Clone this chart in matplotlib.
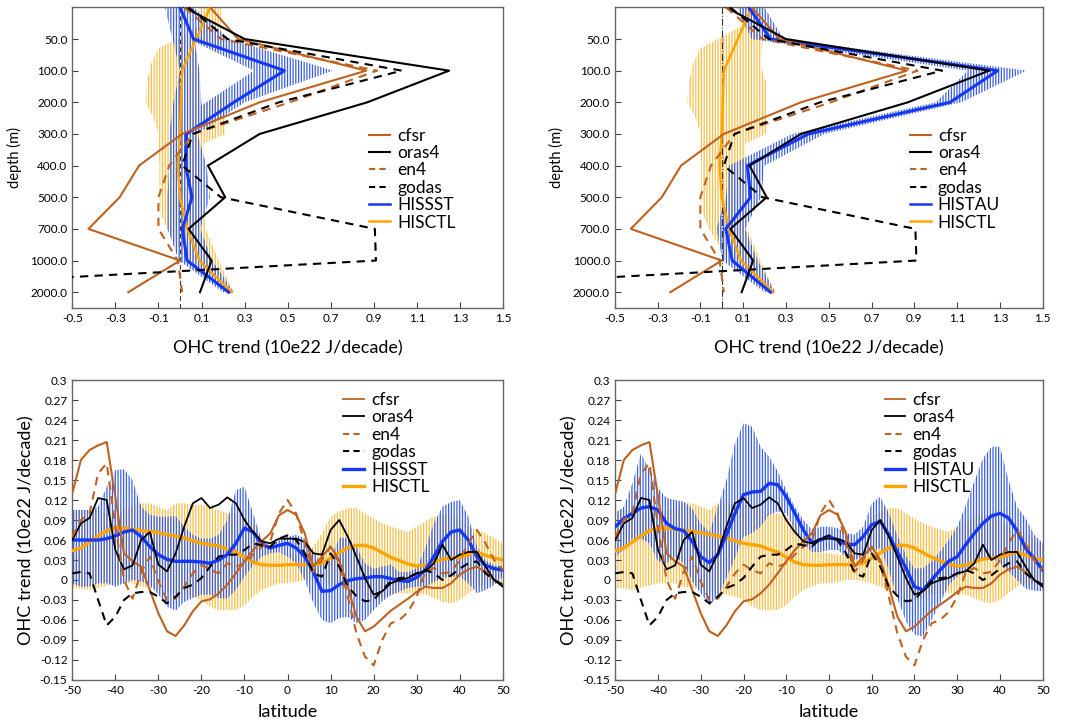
import numpy as np
import matplotlib
matplotlib.use("Agg")
import matplotlib.pyplot as plt
from matplotlib.lines import Line2D

plt.rcParams["font.family"] = ["Lato", "DejaVu Sans"]
plt.rcParams["axes.unicode_minus"] = False
plt.rcParams["hatch.linewidth"] = 0.9

BROWN = "#C0621F"
BLUE = "#1538F2"
ORANGE = "#FFA400"
BLUE_HATCH = "#3A5FE0"
YELLOW_HATCH = "#F7BE45"

# ---------------- vertical profiles (top row) ----------------
depth_labels = ["50.0", "100.0", "200.0", "300.0", "400.0", "500.0", "700.0", "1000.0", "2000.0"]
depth_idx = np.arange(10)  # level 0 = surface, then the labelled levels

cfsr_z = [0.14, 0.27, 0.865, 0.37, 0.01, -0.19, -0.28, -0.425, 0.0, -0.24]
oras4_z = [0.02, 0.30, 1.25, 0.87, 0.37, 0.13, 0.21, 0.04, 0.147, 0.093]
en4_z = [0.02, 0.19, 0.915, 0.51, 0.06, -0.05, -0.1, -0.1, -0.01, 0.01]
godas_z = [0.04, 0.22, 1.03, 0.46, 0.06, 0.01, 0.19, 0.905, 0.91, -1.8]

hisctl_z = [0.14, 0.075, 0.01, 0.005, 0.0, -0.01, 0.0, 0.035, 0.09, 0.24]
hisctl_band_y = [0, 0.6, 1.3, 1.8, 2.4, 3.0, 3.45, 4.0, 4.3, 5, 6, 6.5, 7, 8, 9]
hisctl_band_lo_z = [0.09, 0.09, -0.1, -0.135, -0.155, -0.16, -0.125, -0.1, -0.1, -0.095, -0.095, -0.09, -0.06, 0.03, 0.22]
hisctl_band_hi_z = [0.19, 0.19, 0.19, 0.18, 0.21, 0.21, 0.21, 0.21, 0.11, 0.11, 0.1, 0.11, 0.12, 0.18, 0.25]

hissst_z = [0.0, 0.063, 0.485, 0.25, 0.03, 0.026, 0.056, 0.011, 0.033, 0.226]
hissst_lo_z = [-0.07, -0.035, 0.0, -0.03, -0.05, -0.05, -0.058, -0.058, -0.005, 0.2]
hissst_hi_z = [0.063, 0.23, 0.71, 0.3, 0.08, 0.124, 0.139, 0.094, 0.15, 0.25]
hole_y = [1.1, 2.0, 3.1]
hole_lo = [0.07, 0.09, 0.1]
hole_hi = [0.07, 0.344, 0.1]

histau_z = [0.127, 0.228, 1.29, 1.067, 0.405, 0.12, 0.135, 0.019, 0.049, 0.228]
histau_lo_z = [0.072, 0.139, 1.15, 1.0, 0.33, 0.034, 0.02, -0.025, 0.004, 0.2]
histau_hi_z = [0.2, 0.288, 1.425, 1.12, 0.48, 0.2, 0.184, 0.109, 0.169, 0.25]

# ---------------- zonal profiles (bottom row) ----------------
lat = np.arange(-50, 51, 2)

cfsr_lat = [0.13, 0.18, 0.195, 0.202, 0.207, 0.125, 0.04, 0.028, 0.02, -0.015,
            -0.05, -0.077, -0.084, -0.068, -0.047, -0.032, -0.029, -0.02, -0.007, 0.01,
            0.028, 0.045, 0.058, 0.07, 0.097, 0.105, 0.098, 0.07, 0.02, 0.035,
            0.05, 0.03, -0.01, -0.055, -0.077, -0.07, -0.058, -0.046, -0.037, -0.028,
            -0.018, -0.01, -0.012, -0.012, -0.005, 0.008, 0.016, 0.02, 0.012, 0.0, -0.007]
oras4_lat = [0.06, 0.085, 0.093, 0.123, 0.12, 0.045, 0.016, 0.022, 0.06, 0.072,
             0.023, 0.013, 0.04, 0.08, 0.115, 0.123, 0.108, 0.113, 0.124, 0.115,
             0.09, 0.072, 0.058, 0.055, 0.062, 0.062, 0.062, 0.057, 0.04, 0.038,
             0.075, 0.09, 0.065, 0.035, 0.003, -0.022, -0.017, -0.005, 0.0, 0.003,
             0.01, 0.013, 0.025, 0.053, 0.03, 0.038, 0.042, 0.042, 0.02, 0.0, -0.01]
en4_lat = [0.065, 0.09, 0.1, 0.16, 0.175, 0.08, 0.0, -0.028, 0.012, 0.035,
           -0.002, -0.03, -0.028, -0.01, 0.01, 0.023, 0.015, 0.01, 0.025, 0.02,
           0.025, 0.038, 0.05, 0.058, 0.1, 0.12, 0.1, 0.055, 0.012, 0.03,
           0.05, 0.025, -0.025, -0.08, -0.115, -0.128, -0.09, -0.065, -0.06, -0.048,
           -0.025, 0.012, 0.018, 0.01, 0.012, 0.03, 0.055, 0.075, 0.055, 0.03, 0.015]
godas_lat = [0.01, 0.012, 0.01, -0.03, -0.068, -0.055, -0.03, -0.02, -0.018, -0.018,
             -0.025, -0.035, -0.025, -0.012, -0.007, 0.003, 0.02, 0.035, 0.038, 0.038,
             0.045, 0.055, 0.052, 0.05, 0.062, 0.067, 0.06, 0.04, 0.01, 0.005,
             0.04, 0.02, -0.01, -0.024, -0.032, -0.03, -0.015, -0.002, 0.003, 0.004,
             0.01, 0.015, 0.01, 0.0, 0.007, 0.017, 0.025, 0.028, 0.01, 0.0, -0.007]

hisctl_lat = [0.044, 0.048, 0.057, 0.066, 0.074, 0.078, 0.078, 0.076, 0.074, 0.073,
              0.071, 0.068, 0.066, 0.063, 0.059, 0.055, 0.053, 0.051, 0.046, 0.042,
              0.034, 0.027, 0.023, 0.022, 0.022, 0.023, 0.023, 0.023, 0.023, 0.025,
              0.033, 0.041, 0.048, 0.052, 0.052, 0.048, 0.041, 0.034, 0.029, 0.024,
              0.021, 0.022, 0.027, 0.031, 0.033, 0.034, 0.038, 0.042, 0.037, 0.033, 0.03]
hisctl_hi_lat = [0.105, 0.105, 0.105, 0.105, 0.1, 0.1, 0.105, 0.11, 0.115, 0.115,
                 0.11, 0.105, 0.115, 0.115, 0.113, 0.113, 0.11, 0.105, 0.1, 0.1,
                 0.095, 0.085, 0.062, 0.05, 0.042, 0.04, 0.038, 0.04, 0.05, 0.07,
                 0.095, 0.103, 0.108, 0.108, 0.1, 0.092, 0.085, 0.08, 0.076, 0.072,
                 0.08, 0.088, 0.095, 0.098, 0.098, 0.09, 0.08, 0.075, 0.07, 0.063, 0.055]
hisctl_lo_lat = [-0.012, -0.013, -0.015, -0.012, -0.008, -0.005, -0.005, -0.005, -0.01, -0.012,
                 -0.015, -0.018, -0.02, -0.022, -0.025, -0.03, -0.04, -0.045, -0.045, -0.045,
                 -0.038, -0.025, -0.015, -0.01, -0.005, -0.005, -0.003, 0.0, 0.0, -0.002,
                 -0.005, -0.01, -0.017, -0.025, -0.03, -0.032, -0.027, -0.022, -0.02, -0.02,
                 -0.02, -0.022, -0.027, -0.033, -0.035, -0.03, -0.02, -0.01, -0.005, -0.005, -0.005]

hissst_lat = [0.06, 0.06, 0.06, 0.06, 0.062, 0.066, 0.072, 0.075, 0.065, 0.05,
              0.038, 0.031, 0.028, 0.028, 0.028, 0.027, 0.025, 0.03, 0.038, 0.055,
              0.078, 0.072, 0.054, 0.048, 0.052, 0.055, 0.048, 0.035, 0.012, -0.017,
              -0.016, -0.007, -0.001, 0.002, 0.003, 0.005, 0.005, 0.002, -0.001, -0.002,
              0.004, 0.015, 0.035, 0.058, 0.072, 0.075, 0.06, 0.035, 0.022, 0.017, 0.015]
hissst_hi_lat = [0.105, 0.105, 0.105, 0.11, 0.14, 0.165, 0.166, 0.15, 0.11, 0.098,
                 0.095, 0.095, 0.096, 0.08, 0.068, 0.062, 0.062, 0.068, 0.09, 0.135,
                 0.14, 0.1, 0.06, 0.05, 0.06, 0.065, 0.068, 0.062, 0.043, 0.022,
                 0.03, 0.063, 0.063, 0.05, 0.025, 0.017, 0.02, 0.023, 0.012, 0.012,
                 0.018, 0.048, 0.085, 0.11, 0.117, 0.12, 0.095, 0.05, 0.03, 0.022, 0.02]
hissst_lo_lat = [-0.005, -0.01, -0.01, -0.005, -0.005, -0.01, -0.005, 0.0, -0.002, -0.008,
                 -0.022, -0.04, -0.046, -0.033, -0.027, -0.022, -0.022, -0.027, -0.028, -0.015,
                 0.005, 0.022, 0.035, 0.04, 0.042, 0.035, 0.025, 0.0, -0.035, -0.06,
                 -0.065, -0.057, -0.055, -0.065, -0.06, -0.045, -0.032, -0.023, -0.017, -0.012,
                 -0.01, -0.01, -0.003, 0.003, 0.005, 0.005, -0.005, -0.02, -0.015, -0.008, 0.005]

histau_lat = [0.08, 0.092, 0.1, 0.108, 0.11, 0.105, 0.085, 0.077, 0.074, 0.058,
              0.035, 0.026, 0.038, 0.068, 0.1, 0.128, 0.132, 0.133, 0.145, 0.143,
              0.125, 0.1, 0.075, 0.056, 0.06, 0.065, 0.06, 0.054, 0.053, 0.065,
              0.083, 0.088, 0.068, 0.042, 0.018, -0.01, -0.015, 0.0, 0.015, 0.028,
              0.035, 0.053, 0.07, 0.085, 0.096, 0.1, 0.093, 0.074, 0.048, 0.032, 0.015]
histau_hi_lat = [0.1, 0.11, 0.145, 0.19, 0.165, 0.138, 0.123, 0.12, 0.118, 0.107,
                 0.085, 0.072, 0.11, 0.15, 0.205, 0.235, 0.23, 0.2, 0.185, 0.163,
                 0.135, 0.11, 0.09, 0.076, 0.08, 0.08, 0.078, 0.07, 0.068, 0.08,
                 0.115, 0.125, 0.1, 0.067, 0.037, 0.017, 0.018, 0.028, 0.043, 0.06,
                 0.08, 0.112, 0.148, 0.182, 0.2, 0.2, 0.15, 0.11, 0.093, 0.068, 0.055]
histau_lo_lat = [0.035, 0.045, 0.062, 0.062, 0.055, 0.028, 0.025, 0.035, 0.025, -0.002,
                 -0.02, -0.038, -0.025, 0.003, 0.032, 0.065, 0.07, 0.08, 0.098, 0.103,
                 0.1, 0.075, 0.055, 0.042, 0.042, 0.045, 0.045, 0.035, 0.03, 0.035,
                 0.043, 0.048, 0.015, -0.028, -0.062, -0.082, -0.085, -0.06, -0.035, -0.008,
                 0.005, 0.014, 0.023, 0.03, 0.033, 0.025, 0.013, 0.0, -0.013, -0.016, -0.017]


def hatch_x(ax, y, lo, hi, color, z=1):
    plt.rcParams["hatch.color"] = color
    ax.fill_betweenx(y, lo, hi, facecolor="none", edgecolor=color,
                     hatch="||||||", linewidth=0, zorder=z)


def hatch_y(ax, x, lo, hi, color, z=1):
    plt.rcParams["hatch.color"] = color
    ax.fill_between(x, lo, hi, facecolor="none", edgecolor=color,
                    hatch="||||||", linewidth=0, zorder=z)


def style_axes(ax):
    for s in ax.spines.values():
        s.set_color("#666666")
        s.set_linewidth(1.0)
    ax.tick_params(direction="in", length=4, labelsize=8.5, color="#444444")


def add_legend(ax, name, anchor, lw_obs, lw_exp):
    handles = [
        Line2D([], [], color=BROWN, lw=lw_obs),
        Line2D([], [], color="black", lw=lw_obs),
        Line2D([], [], color=BROWN, lw=1.5, ls=(0, (3, 2))),
        Line2D([], [], color="black", lw=1.5, ls=(0, (3, 2))),
        Line2D([], [], color=BLUE, lw=lw_exp),
        Line2D([], [], color=ORANGE, lw=lw_exp),
    ]
    labels = ["cfsr", "oras4", "en4", "godas", name, "HISCTL"]
    ax.legend(handles, labels, loc="upper left", bbox_to_anchor=anchor, frameon=False,
              fontsize=12.5, handlelength=1.2, handletextpad=0.4, labelspacing=0.08,
              borderaxespad=0.0, borderpad=0.0)


def draw_depth(ax, name, exp_z, exp_lo, exp_hi, zero_ls, hole=False):
    hatch_x(ax, hisctl_band_y, hisctl_band_lo_z, hisctl_band_hi_z, YELLOW_HATCH, 1)
    hatch_x(ax, depth_idx, exp_lo, exp_hi, BLUE_HATCH, 2)
    if hole:
        ax.fill_betweenx(hole_y, hole_lo, hole_hi, facecolor="white", linewidth=0, zorder=3)
    ax.axvline(0, color="#333333", lw=0.8, ls=zero_ls, zorder=4)
    ax.plot(hisctl_z, depth_idx, color=ORANGE, lw=1.8, zorder=5)
    ax.plot(exp_z, depth_idx, color=BLUE, lw=2.2, zorder=6)
    ax.plot(cfsr_z, depth_idx, color=BROWN, lw=1.5, zorder=7)
    ax.plot(oras4_z, depth_idx, color="black", lw=1.5, zorder=7)
    ax.plot(en4_z, depth_idx, color=BROWN, lw=1.5, ls=(0, (4, 3)), zorder=7)
    ax.plot(godas_z, depth_idx, color="black", lw=1.5, ls=(0, (4, 3)), zorder=7)

    ax.set_xlim(-0.5, 1.5)
    ax.set_ylim(9.5, 0)
    xt = np.arange(-0.5, 1.51, 0.2)
    ax.set_xticks(xt)
    ax.set_xticklabels([f"{v:.1f}" for v in xt])
    ax.set_yticks(depth_idx[1:])
    ax.set_yticklabels(depth_labels)
    ax.set_xlabel("OHC trend (10e22 J/decade)", fontsize=13, labelpad=12)
    ax.set_ylabel("depth (m)", fontsize=10.5, labelpad=6)
    style_axes(ax)
    add_legend(ax, name, (0.69, 0.6), 1.5, 1.8)


def draw_lat(ax, name, exp_lat, exp_lo, exp_hi):
    hatch_y(ax, lat, hisctl_lo_lat, hisctl_hi_lat, YELLOW_HATCH, 1)
    hatch_y(ax, lat, exp_lo, exp_hi, BLUE_HATCH, 2)
    ax.plot(lat, hisctl_lat, color=ORANGE, lw=2.4, zorder=5)
    ax.plot(lat, exp_lat, color=BLUE, lw=2.4, zorder=6)
    ax.plot(lat, cfsr_lat, color=BROWN, lw=1.5, zorder=7)
    ax.plot(lat, oras4_lat, color="black", lw=1.3, zorder=7)
    ax.plot(lat, en4_lat, color=BROWN, lw=1.5, ls=(0, (4, 3)), zorder=7)
    ax.plot(lat, godas_lat, color="black", lw=1.5, ls=(0, (4, 3)), zorder=7)

    ax.set_xlim(-50, 50)
    ax.set_ylim(-0.15, 0.3)
    ax.set_xticks(np.arange(-50, 51, 10))
    yt = np.round(np.arange(-0.15, 0.301, 0.03), 2)
    ax.set_yticks(yt)
    ax.set_yticklabels([f"{v:g}" for v in yt])
    ax.set_xlabel("latitude", fontsize=13, labelpad=6)
    ax.set_ylabel("OHC trend (10e22 J/decade)", fontsize=13, labelpad=4)
    style_axes(ax)
    add_legend(ax, name, (0.63, 0.96), 1.3, 2.4)


fig = plt.figure(figsize=(10.84, 7.21), dpi=100)
ax1 = fig.add_axes([0.0667, 0.5728, 0.3973, 0.417])
ax2 = fig.add_axes([0.5671, 0.5728, 0.3948, 0.417])
ax3 = fig.add_axes([0.0667, 0.0569, 0.3971, 0.416])
ax4 = fig.add_axes([0.5676, 0.0569, 0.3943, 0.416])

draw_depth(ax1, "HISSST", hissst_z, hissst_lo_z, hissst_hi_z, (0, (4, 3)), hole=True)
draw_depth(ax2, "HISTAU", histau_z, histau_lo_z, histau_hi_z, "-.")
draw_lat(ax3, "HISSST", hissst_lat, hissst_lo_lat, hissst_hi_lat)
draw_lat(ax4, "HISTAU", histau_lat, histau_lo_lat, histau_hi_lat)

fig.savefig("out.png", dpi=100)
